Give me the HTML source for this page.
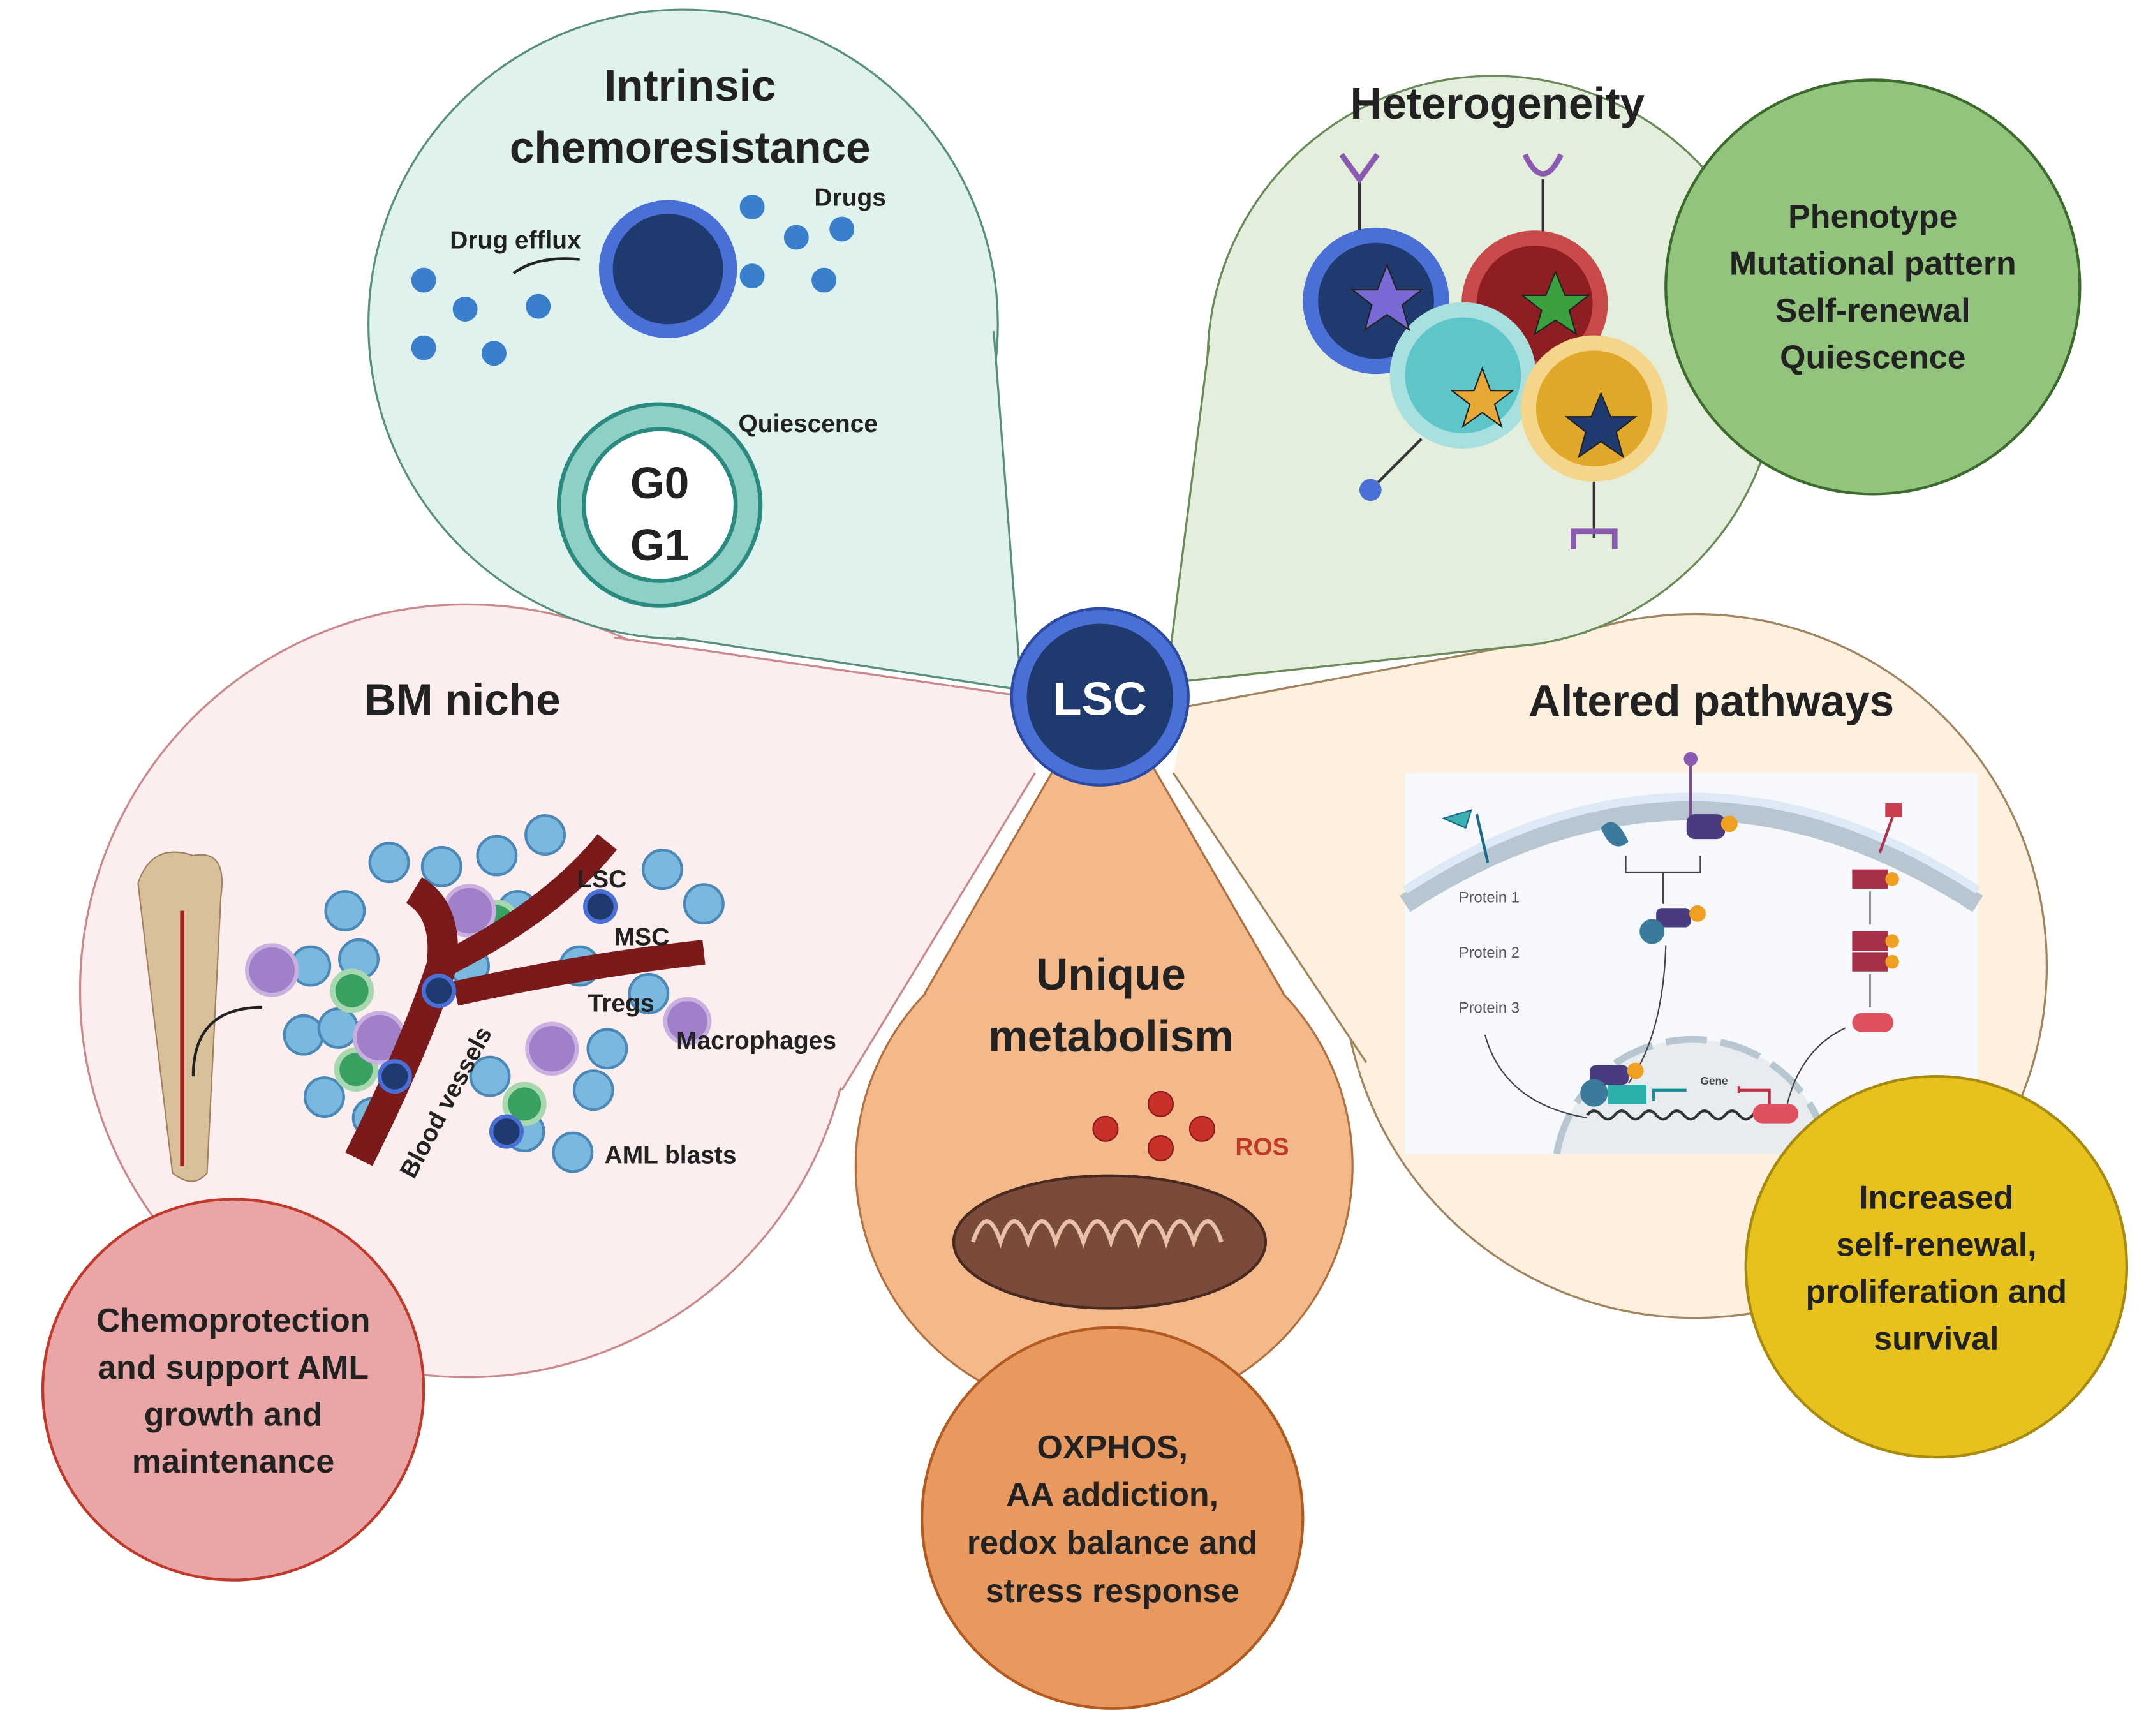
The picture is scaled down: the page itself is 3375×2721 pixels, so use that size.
<!DOCTYPE html>
<html><head><meta charset="utf-8"><style>
html,body{margin:0;padding:0;background:#fff}
svg{display:block}
text{font-family:"Liberation Sans",sans-serif;font-weight:bold;fill:#222}
</style></head><body>
<svg width="3375" height="2721" viewBox="0 0 1560 1258" preserveAspectRatio="none" xmlns="http://www.w3.org/2000/svg">
<!-- BM niche -->
<circle cx="338" cy="718" r="280" fill="#fcedee" stroke="#c98a8e" stroke-width="1.5"/>
<polygon points="745,505 445,462 610,790 750,560" fill="#fcedee"/>
<path d="M745,505 L445,462 M750,560 L610,790" stroke="#c98a8e" stroke-width="1.5"/>
<!-- Altered pathways -->
<circle cx="1228" cy="700" r="255" fill="#fdf0df" stroke="#a08560" stroke-width="1.5"/>
<polygon points="860,512 1150,458 990,770 850,560" fill="#fdf0df"/>
<path d="M860,512 L1150,458 M850,560 L990,770" stroke="#a08560" stroke-width="1.5"/>
<!-- Intrinsic -->
<circle cx="495" cy="235" r="228" fill="#e0f2ee" stroke="#5a8f80" stroke-width="1.5"/>
<polygon points="740,500 490,462 720,240" fill="#e0f2ee"/>
<path d="M740,500 L490,462 M740,500 L720,240" stroke="#5a8f80" stroke-width="1.5"/>
<!-- Heterogeneity -->
<circle cx="1082" cy="262" r="207" fill="#e4eedc" stroke="#6a8a5a" stroke-width="1.5"/>
<polygon points="845,495 876,250 1120,466" fill="#e4eedc"/>
<path d="M845,495 L876,250 M845,495 L1120,466" stroke="#6a8a5a" stroke-width="1.5"/>
<!-- Unique metabolism -->
<circle cx="800" cy="845" r="180" fill="#f3b98b" stroke="#b07040" stroke-width="1.5"/>
<polygon points="765,555 835,555 930,720 670,720" fill="#f3b98b"/>
<path d="M765,555 L670,720 M835,555 L930,720" stroke="#b07040" stroke-width="1.5"/>
<!-- LSC -->
<circle cx="797" cy="505" r="64" fill="#4a6fd6" stroke="#2b4aa0" stroke-width="2"/>
<circle cx="797" cy="505" r="53" fill="#1e3a6e"/>
<text x="797" y="518" text-anchor="middle" font-size="34" style="fill:#fff">LSC</text>

<!-- Intrinsic content -->
<text x="500" y="73" text-anchor="middle" font-size="32">Intrinsic</text>
<text x="500" y="118" text-anchor="middle" font-size="32">chemoresistance</text>
<circle cx="484" cy="195" r="50" fill="#4a6fd6"/><circle cx="484" cy="195" r="40" fill="#1e3a6e"/>
<g fill="#3a7fcc"><circle cx="545" cy="150" r="9"/><circle cx="577" cy="172" r="9"/><circle cx="610" cy="166" r="9"/><circle cx="545" cy="200" r="9"/><circle cx="597" cy="203" r="9"/><circle cx="307" cy="203" r="9"/><circle cx="337" cy="224" r="9"/><circle cx="390" cy="222" r="9"/><circle cx="307" cy="252" r="9"/><circle cx="358" cy="256" r="9"/></g>
<path d="M420,188 Q390,185 372,198" fill="none" stroke="#222" stroke-width="2"/>
<text x="590" y="149" font-size="18">Drugs</text>
<text x="326" y="180" font-size="18">Drug efflux</text>
<circle cx="478" cy="366" r="73" fill="#8fd0c6" stroke="#2a8a80" stroke-width="3"/>
<circle cx="478" cy="366" r="55" fill="#fff" stroke="#2a8a80" stroke-width="3"/>
<text x="478" y="361" text-anchor="middle" font-size="32">G0</text>
<text x="478" y="406" text-anchor="middle" font-size="32">G1</text>
<text x="535" y="313" font-size="18">Quiescence</text>

<!-- Heterogeneity content -->
<text x="1085" y="86" text-anchor="middle" font-size="32">Heterogeneity</text>
<g stroke="#333" stroke-width="2"><line x1="985" y1="130" x2="985" y2="175"/><line x1="1118" y1="130" x2="1118" y2="175"/><line x1="993" y1="355" x2="1030" y2="318"/><line x1="1155" y1="340" x2="1155" y2="390"/></g>
<path d="M972,112 L985,130 L998,112" fill="none" stroke="#8a5ab0" stroke-width="4"/>
<path d="M1105,112 Q1118,140 1131,112" fill="none" stroke="#8a5ab0" stroke-width="4"/>
<circle cx="993" cy="355" r="8" fill="#4a6fd6"/>
<path d="M1140,398 L1140,385 L1170,385 L1170,398" fill="none" stroke="#8a5ab0" stroke-width="4"/>
<circle cx="997" cy="218" r="53" fill="#4a6fd6"/><circle cx="997" cy="218" r="42" fill="#1e3a6e"/>
<circle cx="1112" cy="220" r="53" fill="#c84a4a"/><circle cx="1112" cy="220" r="42" fill="#8e1e22"/>
<circle cx="1060" cy="272" r="53" fill="#a8e0e0"/><circle cx="1060" cy="272" r="42" fill="#5ec6c8"/>
<circle cx="1155" cy="296" r="53" fill="#f5d58a"/><circle cx="1155" cy="296" r="42" fill="#e0a82a"/>
<polygon points="1005,192 1012,210 1030,210 1016,221 1021,239 1005,228 989,239 994,221 980,210 998,210" fill="#7a6ad8" stroke="#222"/>
<polygon points="1127,197 1134,214 1151,214 1137,225 1142,242 1127,232 1112,242 1117,225 1103,214 1120,214" fill="#3aa040" stroke="#222"/>
<polygon points="1074,267 1080,283 1096,283 1083,293 1088,309 1074,299 1060,309 1065,293 1052,283 1068,283" fill="#e8a838" stroke="#222"/>
<polygon points="1160,285 1167,302 1185,302 1171,313 1176,331 1160,320 1144,331 1149,313 1135,302 1153,302" fill="#1e3a6e" stroke="#222"/>
<circle cx="1357" cy="208" r="150" fill="#93c47d" stroke="#3d6b2e" stroke-width="2"/>
<g font-size="24" text-anchor="middle"><text x="1357" y="165">Phenotype</text><text x="1357" y="199">Mutational pattern</text><text x="1357" y="233">Self-renewal</text><text x="1357" y="267">Quiescence</text></g>

<!-- BM niche content -->
<text x="335" y="518" text-anchor="middle" font-size="32">BM niche</text>
<path d="M100,640 Q110,610 140,620 Q165,615 160,650 L150,850 Q140,862 125,850 Z" fill="#d8c09a" stroke="#a08060"/>
<line x1="132" y1="660" x2="132" y2="845" stroke="#a02020" stroke-width="3"/>
<path d="M140,780 Q140,730 190,730" fill="none" stroke="#222" stroke-width="2"/>
<g fill="#7ab8e0" stroke="#4a88b8" stroke-width="2">
<circle cx="250" cy="660" r="14"/><circle cx="282" cy="625" r="14"/><circle cx="320" cy="628" r="14"/><circle cx="360" cy="620" r="14"/><circle cx="395" cy="605" r="14"/><circle cx="260" cy="695" r="14"/><circle cx="225" cy="700" r="14"/><circle cx="220" cy="750" r="14"/><circle cx="245" cy="745" r="14"/><circle cx="235" cy="795" r="14"/><circle cx="270" cy="810" r="14"/><circle cx="355" cy="780" r="14"/><circle cx="380" cy="820" r="14"/><circle cx="415" cy="835" r="14"/><circle cx="430" cy="790" r="14"/><circle cx="440" cy="760" r="14"/><circle cx="470" cy="720" r="14"/><circle cx="480" cy="630" r="14"/><circle cx="510" cy="655" r="14"/><circle cx="375" cy="660" r="14"/><circle cx="340" cy="700" r="14"/><circle cx="420" cy="700" r="14"/></g>
<g fill="#38a060" stroke="#a8d8b0" stroke-width="4"><circle cx="255" cy="718" r="14"/><circle cx="258" cy="775" r="14"/><circle cx="360" cy="668" r="14"/><circle cx="380" cy="800" r="14"/></g>
<g fill="#a080c8" stroke="#c8b0e0" stroke-width="3"><circle cx="197" cy="703" r="18"/><circle cx="340" cy="660" r="18"/><circle cx="275" cy="752" r="18"/><circle cx="400" cy="760" r="18"/><circle cx="498" cy="740" r="16"/></g>
<path d="M260,840 Q300,760 320,700 Q325,660 300,645" fill="none" stroke="#7a1a1a" stroke-width="22"/>
<path d="M320,700 Q400,660 440,610" fill="none" stroke="#7a1a1a" stroke-width="18"/>
<path d="M330,720 Q420,700 510,690" fill="none" stroke="#7a1a1a" stroke-width="18"/>
<g fill="#1e3a6e" stroke="#4a6fd6" stroke-width="3"><circle cx="435" cy="657" r="11"/><circle cx="318" cy="718" r="11"/><circle cx="286" cy="780" r="11"/><circle cx="367" cy="820" r="11"/></g>
<g font-size="18"><text x="418" y="643">LSC</text><text x="445" y="685">MSC</text><text x="426" y="733">Tregs</text><text x="490" y="760">Macrophages</text><text x="438" y="843">AML blasts</text></g>
<text x="0" y="0" font-size="18" transform="translate(300,855) rotate(-62)">Blood vessels</text>
<circle cx="169" cy="1007" r="138" fill="#eaa6a6" stroke="#c0392b" stroke-width="2"/>
<g font-size="24" text-anchor="middle"><text x="169" y="965">Chemoprotection</text><text x="169" y="999">and support AML</text><text x="169" y="1033">growth and</text><text x="169" y="1067">maintenance</text></g>

<!-- Metabolism -->
<text x="805" y="717" text-anchor="middle" font-size="32">Unique</text>
<text x="805" y="762" text-anchor="middle" font-size="32">metabolism</text>
<g fill="#c8302a" stroke="#8a1a1a"><circle cx="841" cy="800" r="9"/><circle cx="801" cy="818" r="9"/><circle cx="871" cy="818" r="9"/><circle cx="841" cy="832" r="9"/></g>
<text x="895" y="837" font-size="18" style="fill:#c0392b">ROS</text>
<ellipse cx="804" cy="900" rx="113" ry="48" fill="#7a4a3a" stroke="#4a2a20" stroke-width="2"/>
<path d="M705,900 q10,-30 20,0 q10,-30 20,0 q10,-30 20,0 q10,-30 20,0 q10,-30 20,0 q10,-30 20,0 q10,-30 20,0 q10,-30 20,0 q10,-30 20,0" fill="none" stroke="#e8c0a8" stroke-width="3"/>
<circle cx="806" cy="1100" r="138" fill="#e8995f" stroke="#b35a20" stroke-width="2"/>
<g font-size="24" text-anchor="middle"><text x="806" y="1057">OXPHOS,</text><text x="806" y="1091">AA addiction,</text><text x="806" y="1126">redox balance and</text><text x="806" y="1161">stress response</text></g>

<!-- Altered pathways -->
<text x="1240" y="519" text-anchor="middle" font-size="32">Altered pathways</text>
<rect x="1018" y="560" width="415" height="276" fill="#f6f8fb"/>
<path d="M1018,655 Q1225,520 1433,655" fill="none" stroke="#b8c6d2" stroke-width="14"/>
<path d="M1018,645 Q1225,510 1433,645" fill="none" stroke="#dde9f4" stroke-width="6"/>
<path d="M1128,836 A100,100 0 0 1 1325,836" fill="#e8ecf0" stroke="#b8c6d2" stroke-width="5" stroke-dasharray="30,10"/>
<g font-size="11"><text x="1057" y="654" style="font-weight:normal;fill:#555">Protein 1</text><text x="1057" y="694" style="font-weight:normal;fill:#555">Protein 2</text><text x="1057" y="734" style="font-weight:normal;fill:#555">Protein 3</text></g>
<line x1="1070" y1="590" x2="1078" y2="625" stroke="#1a6a8a" stroke-width="2"/>
<path d="M1046,593 L1066,587 L1062,600 Z" fill="#3ab0b0" stroke="#1a6a8a"/>
<line x1="1225" y1="550" x2="1225" y2="592" stroke="#7a4a8a" stroke-width="2"/>
<circle cx="1225" cy="550" r="5" fill="#8a5ab0"/>
<rect x="1222" y="590" width="28" height="18" rx="6" fill="#4a3a80"/><circle cx="1253" cy="597" r="6" fill="#f0a020"/>
<path d="M1160,600 q10,-12 20,10 q-12,10 -20,-10" fill="#3a7a9a"/>
<path d="M1178,620 L1178,632 L1232,632 L1232,620 M1205,632 L1205,655" fill="none" stroke="#444"/>
<rect x="1200" y="658" width="25" height="14" rx="4" fill="#4a3a80"/><circle cx="1230" cy="662" r="6" fill="#f0a020"/><circle cx="1197" cy="675" r="9" fill="#3a7a9a"/>
<line x1="1372" y1="590" x2="1362" y2="618" stroke="#b03050" stroke-width="2"/><rect x="1366" y="582" width="12" height="10" fill="#c84050"/>
<rect x="1342" y="630" width="26" height="14" fill="#a83048"/><circle cx="1371" cy="637" r="5" fill="#f0a020"/>
<rect x="1342" y="675" width="26" height="14" fill="#a83048"/><rect x="1342" y="690" width="26" height="14" fill="#a83048"/><circle cx="1371" cy="682" r="5" fill="#f0a020"/><circle cx="1371" cy="697" r="5" fill="#f0a020"/>
<rect x="1342" y="734" width="30" height="14" rx="7" fill="#e05060"/>
<g stroke="#444" fill="none"><line x1="1355" y1="646" x2="1355" y2="670"/><line x1="1355" y1="706" x2="1355" y2="730"/><path d="M1207,685 Q1205,750 1180,785"/><path d="M1076,750 Q1090,800 1150,810"/><path d="M1337,745 Q1305,760 1295,800"/></g>
<rect x="1152" y="772" width="28" height="14" rx="4" fill="#4a3a80"/><circle cx="1185" cy="776" r="6" fill="#f0a020"/><rect x="1165" y="786" width="28" height="14" fill="#2ab0a8"/><circle cx="1155" cy="792" r="10" fill="#3a7a9a"/>
<path d="M1198,798 L1198,790 L1222,790" fill="none" stroke="#1a8a9a" stroke-width="2"/>
<text x="1232" y="786" font-size="8" style="fill:#444">Gene</text>
<path d="M1260,792 L1260,787 M1260,790 L1282,790 L1282,800" fill="none" stroke="#c03040" stroke-width="2"/>
<path d="M1150,808 q5,-6 10,0 q5,6 10,0 q5,-6 10,0 q5,6 10,0 q5,-6 10,0 q5,6 10,0 q5,-6 10,0 q5,6 10,0 q5,-6 10,0 q5,6 10,0 q5,-6 10,0 q5,6 10,0 q5,-6 10,0 q5,6 10,0" fill="none" stroke="#333" stroke-width="2"/>
<rect x="1270" y="800" width="33" height="14" rx="7" fill="#e05060"/>
<circle cx="1403" cy="918" r="138" fill="#e8c21c" stroke="#a88a10" stroke-width="2"/>
<g font-size="24" text-anchor="middle"><text x="1403" y="876">Increased</text><text x="1403" y="910">self-renewal,</text><text x="1403" y="944">proliferation and</text><text x="1403" y="978">survival</text></g>
</svg>
</body></html>
